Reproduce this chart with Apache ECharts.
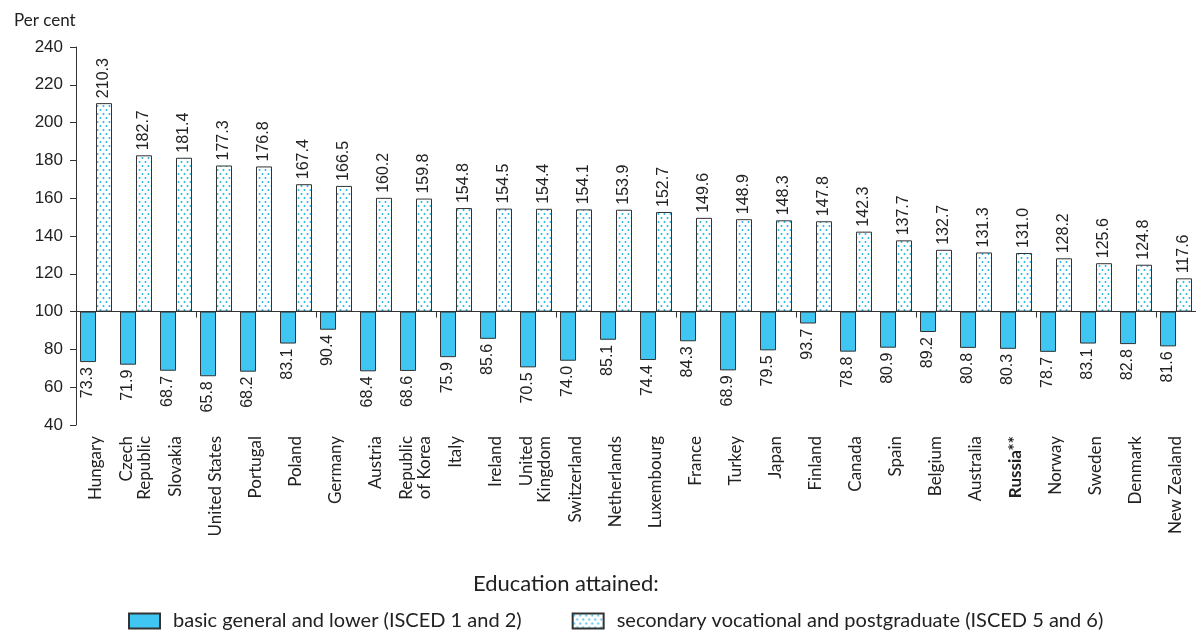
<!DOCTYPE html>
<html>
<head>
<meta charset="utf-8">
<script src="https://cdn.jsdelivr.net/npm/echarts@6/dist/echarts.min.js"></script>
<style>
html,body{margin:0;padding:0;background:#fff;}
#chart{width:1196px;height:631px;}
</style>
</head>
<body>
<div id="chart"></div>
<script>
var categories = ["Hungary","Czech\nRepublic","Slovakia","United States","Portugal","Poland","Germany","Austria","Republic\nof Korea","Italy","Ireland","United\nKingdom","Switzerland","Netherlands","Luxembourg","France","Turkey","Japan","Finland","Canada","Spain","Belgium","Australia","Russia**","Norway","Sweden","Denmark","New Zealand"];
var basicValues = [73.3,71.9,68.7,65.8,68.2,83.1,90.4,68.4,68.6,75.9,85.6,70.5,74.0,85.1,74.4,84.3,68.9,79.5,93.7,78.8,80.9,89.2,80.8,80.3,78.7,83.1,82.8,81.6];
var higherValues = [210.3,182.7,181.4,177.3,176.8,167.4,166.5,160.2,159.8,154.8,154.5,154.4,154.1,153.9,152.7,149.6,148.9,148.3,147.8,142.3,137.7,132.7,131.3,131.0,128.2,125.6,124.8,117.6];
var yTicks = [40,60,80,100,120,140,160,180,200,220,240];
var seriesNames = ["basic general and lower (ISCED 1 and 2)","secondary vocational and postgraduate (ISCED 5 and 6)"];
var baseline = 100;

var yMin = 40, yMax = 240, gridTop = 47, gridHeight = 378;

function makePattern(){
  var c = document.createElement('canvas');
  c.width = 6; c.height = 8;
  var ctx = c.getContext('2d');
  ctx.fillStyle = '#ffffff';
  ctx.fillRect(0,0,6,8);
  ctx.fillStyle = '#22b4ea';
  ctx.beginPath(); ctx.arc(1.5,2,1.0,0,Math.PI*2); ctx.fill();
  ctx.beginPath(); ctx.arc(4.5,6,1.0,0,Math.PI*2); ctx.fill();
  return c;
}
var pattern = {image: makePattern(), repeat: 'repeat'};

var numFont = 'Liberation Sans';
var txtFont = 'Lato';

var chart = echarts.init(document.getElementById('chart'));
var option = {
  animation: false,
  backgroundColor: '#ffffff',
  title: [
    {text: 'Per cent', left: 9, top: 7, textStyle: {fontFamily: txtFont, fontSize: 17, fontWeight: 'normal', color: '#222'}},
    {text: 'Education attained:', left: 468, top: 568, textStyle: {fontFamily: txtFont, fontSize: 22, fontWeight: 'normal', color: '#222'}}
  ],
  legend: {
    left: 123, top: 606, itemWidth: 31, itemHeight: 15, itemGap: 50,
    icon: 'rect',
    data: seriesNames,
    textStyle: {fontFamily: txtFont, fontSize: 20, color: '#222', padding: [0, 0, 0, 8]}
  },
  grid: {left: 76, top: gridTop, width: 1126, height: gridHeight, containLabel: false},
  xAxis: [
    {
      type: 'category', data: categories, position: 'bottom',
      axisLine: {show: false}, axisTick: {show: false},
      axisLabel: {
        interval: 0, rotate: 90, margin: 11, color: '#222',
        fontFamily: txtFont, fontSize: 17, lineHeight: 18,
        formatter: function(v){ return v === 'Russia**' ? '{b|' + v + '}' : v; },
        rich: {b: {fontWeight: 'bold', fontFamily: txtFont, fontSize: 17, color: '#222'}}
      }
    },
    {
      type: 'category', data: categories, position: 'bottom',
      offset: -((baseline - yMin) / (yMax - yMin)) * gridHeight,
      axisLine: {show: true, lineStyle: {color: '#333', width: 1}},
      axisTick: {show: true, length: 6, lineStyle: {color: '#333'}},
      axisLabel: {show: false}
    }
  ],
  yAxis: {
    type: 'value', min: yMin, max: yMax, interval: 20,
    axisLine: {show: true, lineStyle: {color: '#333'}},
    axisTick: {show: true, length: 6, lineStyle: {color: '#333'}},
    splitLine: {show: false},
    axisLabel: {color: '#222', fontFamily: numFont, fontSize: 17, margin: 13}
  },
  series: [
    {
      name: 'basicBase', type: 'bar', stack: 'basic', barWidth: 16, barGap: '0%',
      data: basicValues, itemStyle: {color: 'rgba(0,0,0,0)'}, silent: true,
      emphasis: {disabled: true}
    },
    {
      name: seriesNames[0], type: 'bar', stack: 'basic', barWidth: 16, barGap: '0%',
      data: basicValues.map(function(v){ return baseline - v; }),
      itemStyle: {color: '#3fc6f2', borderColor: '#333', borderWidth: 1},
      label: {
        show: true, position: 'bottom', rotate: 90, distance: 5,
        align: 'right', verticalAlign: 'middle',
        fontFamily: numFont, fontSize: 16, color: '#222',
        formatter: function(p){ return basicValues[p.dataIndex].toFixed(1); }
      }
    },
    {
      name: 'higherBase', type: 'bar', stack: 'higher', barWidth: 16, barGap: '0%',
      data: higherValues.map(function(){ return baseline; }),
      itemStyle: {color: 'rgba(0,0,0,0)'}, silent: true,
      emphasis: {disabled: true}
    },
    {
      name: seriesNames[1], type: 'bar', stack: 'higher', barWidth: 16, barGap: '0%',
      data: higherValues.map(function(v){ return v - baseline; }),
      itemStyle: {color: pattern, borderColor: '#333', borderWidth: 1},
      label: {
        show: true, position: 'top', rotate: 90, distance: 5,
        align: 'left', verticalAlign: 'middle',
        fontFamily: numFont, fontSize: 16, color: '#222',
        formatter: function(p){ return higherValues[p.dataIndex].toFixed(1); }
      }
    }
  ]
};
chart.setOption(option);
</script>
</body>
</html>
